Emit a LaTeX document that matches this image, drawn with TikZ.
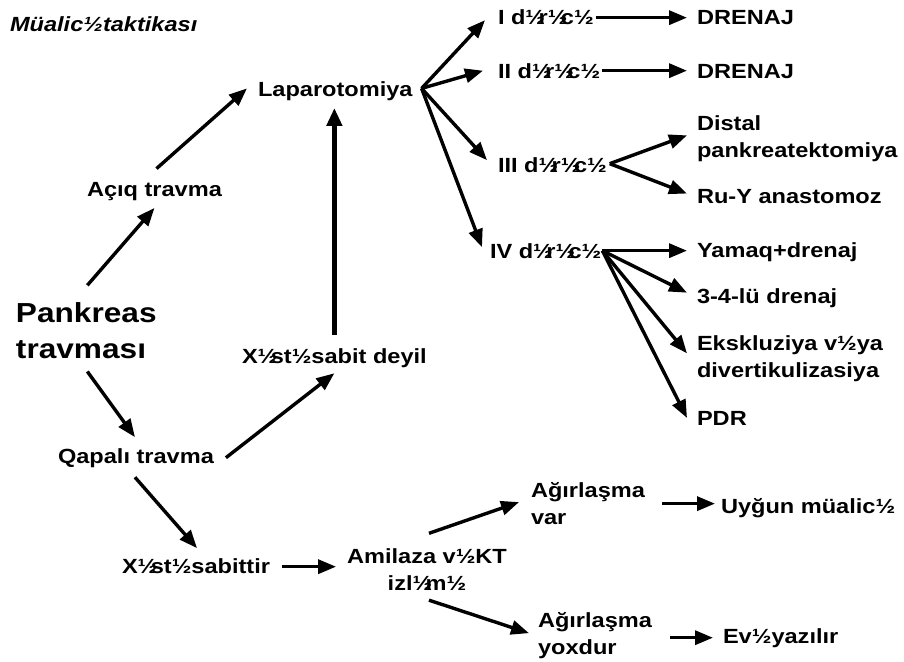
\documentclass[tikz,border=0pt]{standalone}
\usepackage{fontspec}
\setmainfont[FakeStretch=1.15]{Liberation Sans}
\usetikzlibrary{arrows.meta,calc}
\newcommand{\hh}{½}
\newcommand{\ho}{½\kern-0.32em}
\tikzset{
  lbl/.style={inner sep=0pt,outer sep=0pt,font=\fontsize{20.5}{27}\selectfont\bfseries},
  lblL/.style={lbl,align=left},
  big/.style={inner sep=0pt,outer sep=0pt,align=left,font=\fontsize{27.5}{36}\selectfont\bfseries},
  arr/.style={line width=3.4pt,-{Triangle[length=18pt,width=14pt]}},
  arrthick/.style={line width=5pt,-{Triangle[length=18pt,width=15pt]}}
}
\begin{document}
\begin{tikzpicture}[x=1pt,y=-1pt]
\fill[white] (0,0) rectangle (904,661);
\useasboundingbox (0,0) rectangle (904,661);
% left part
\node[lbl,anchor=base west] (title) at (10,32) {\itshape Müalic\hh taktikası};
\node[big,anchor=north west] (pank) at (16,302.3) {Pankreas\\travması};
\node[lbl,anchor=base west] (aciq) at (87,196.7) {Açıq travma};
\node[lbl,anchor=base west] (lap) at (258,96.7) {Laparotomiya};
\node[lbl,anchor=base west] (qapali) at (58,463) {Qapalı travma};
\node[lbl,anchor=base west] (deyil) at (242,363) {X\ho st\hh sabit deyil};
\node[lbl,anchor=base west] (sabittir) at (122,573) {X\ho st\hh sabittir};
\node[lbl,anchor=north,align=center] (amilaza) at (427,548.3) {Amilaza v\hh KT\\izl\ho m\hh};
\node[lblL,anchor=north west] (agv) at (531,482) {Ağırlaşma\\var};
\node[lbl,anchor=base west] (uygun) at (721,513) {Uyğun müalic\hh};
\node[lblL,anchor=north west] (agy) at (538,612) {Ağırlaşma\\yoxdur};
\node[lbl,anchor=base west] (ev) at (723,643) {Ev\hh yazılır};
% degrees
\node[lbl,anchor=base west] (d1) at (498,25) {I d\ho r\ho c\hh};
\node[lbl,anchor=base west] (d2) at (498,78) {II d\ho r\ho c\hh};
\node[lbl,anchor=base west] (d3) at (498,172) {III d\ho r\ho c\hh};
\node[lbl,anchor=base west] (d4) at (490,258) {IV d\ho r\ho c\hh};
\node[lbl,anchor=base west] (dren1) at (697,25) {DRENAJ};
\node[lbl,anchor=base west] (dren2) at (697,78) {DRENAJ};
\node[lblL,anchor=north west] (distal) at (697,115.3) {Distal\\pankreatektomiya};
\node[lbl,anchor=base west] (ruy) at (697,203) {Ru-Y anastomoz};
\node[lbl,anchor=base west] (yamaq) at (697,257) {Yamaq+drenaj};
\node[lbl,anchor=base west] (dren34) at (697,303) {3-4-lü drenaj};
\node[lblL,anchor=north west] (ekskl) at (697,335.3) {Ekskluziya v\hh ya\\divertikulizasiya};
\node[lbl,anchor=base west] (pdr) at (697,425) {PDR};
% connectors left
\draw[arr] ($(pank.north)+(1,-17)$) -- ($(aciq.south)+(0,7)$);
\draw[arr] ($(aciq.north)+(2,-14)$) -- ($(lap.west)+(-11,-3)$);
\draw[arrthick] ($(deyil.north)+(0,-13)$) -- ($(deyil.north |- lap.south)+(0,7)$);
\draw[arr] ($(pank.south)+(1,13)$) -- ($(qapali.north)+(-1,-11)$);
\draw[arr] ($(qapali.east)+(12,0)$) -- ($(deyil.south)+(0,6)$);
\draw[arr] ($(qapali.south)+(-1,10)$) -- ($(sabittir.north)+(1,-10)$);
\draw[arr] ($(sabittir.east)+(12,1)$) -- ($(sabittir.east -| amilaza.west)+(-11,1)$);
\draw[arr] ($(amilaza.north)+(2,-15)$) -- ($(agv.west)+(-12,-1)$);
\draw[arr] ($(uygun.west -| agv.east)+(17,-4)$) -- ($(uygun.west)+(-6,-4)$);
\draw[arr] ($(amilaza.south)+(2,10)$) -- ($(agy.west)+(-9,-2)$);
\draw[arr] ($(ev.west -| agy.east)+(18,0)$) -- ($(ev.west)+(-10,0)$);
% connectors right
\draw[arr] ($(lap.east)+(9,-3)$) -- ($(d1.west)+(-13,2.5)$);
\draw[arr] ($(lap.east)+(9,-3)$) -- ($(d2.west)+(-15,0)$);
\draw[arr] ($(lap.east)+(9,-3)$) -- ($(d3.west)+(-11,-4.5)$);
\draw[arr] ($(lap.east)+(9,-3)$) -- ($(d4.west)+(-8,-3.5)$);
\draw[arr] ($(d1.east)+(2,0)$) -- ($(d1.east -| dren1.west)+(-10,0)$);
\draw[arr] ($(d2.east)+(2,0)$) -- ($(d2.east -| dren2.west)+(-10,0)$);
\draw[arr] ($(d3.east)+(3,-1)$) -- ($(distal.west)+(-10,-3)$);
\draw[arr] ($(d3.east)+(3,-1)$) -- ($(ruy.west)+(-10,-2.5)$);
\draw[arr] ($(d4.east)+(1,0)$) -- ($(d4.east -| yamaq.west)+(-10,0)$);
\draw[arr] ($(d4.east)+(1,0)$) -- ($(dren34.west)+(-10,-5)$);
\draw[arr] ($(d4.east)+(1,0)$) -- ($(ekskl.west)+(-10,-5)$);
\draw[arr] ($(d4.east)+(1,0)$) -- ($(pdr.west)+(-10,0)$);
\end{tikzpicture}
\end{document}
